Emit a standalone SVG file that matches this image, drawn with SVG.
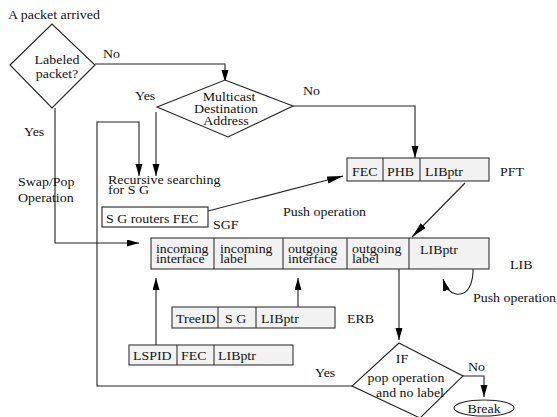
<svg xmlns="http://www.w3.org/2000/svg" width="557" height="417" viewBox="0 0 557 417" font-family="'Liberation Serif', 'DejaVu Serif', serif">
<defs>
<style>
text{font-family:'Liberation Serif','DejaVu Serif',serif;font-size:12px;fill:#111}
.m{text-anchor:middle}
.ln{fill:none;stroke:#222;stroke-width:1.1}
.box{fill:#fff;stroke:#222;stroke-width:1.1}
.cell{fill:#f2f2f2;stroke:#333;stroke-width:1.1}
.dv{stroke:#333;stroke-width:1.1}
.arr{marker-end:url(#ah)}
</style>
<marker id="ah" markerWidth="13" markerHeight="8" refX="12" refY="3.5" orient="auto" markerUnits="userSpaceOnUse"><path d="M0,0 L12,3.5 L0,7 z" fill="#000"/></marker>
<marker id="ahl" markerWidth="17" markerHeight="8" refX="16" refY="3.5" orient="auto" markerUnits="userSpaceOnUse"><path d="M0,0 L16,3.5 L0,7 z" fill="#000"/></marker>
</defs>
<rect width="557" height="417" fill="#fff"/>

<g id="connectors">
<path class="ln arr" d="M95,64 H225 V82"/>
<path class="ln arr" d="M293,106 H415 V158"/>
<path class="ln arr" d="M156,112 V176"/>
<path class="ln arr" d="M352,386 H97 V122 H139 V176"/>
<path class="ln arr" d="M55,108 V243 H139"/>
<path class="ln" style="marker-end:url(#ahl)" d="M208,211 L343,176"/>
<path class="ln" style="marker-end:url(#ahl)" d="M465,183 L412,237"/>
<path class="ln arr" d="M156,345 V278"/>
<path class="ln arr" d="M298,307 V278"/>
<path class="ln arr" d="M399,269 V340"/>
<path class="ln arr" d="M463,376 H484 V397"/>
<path class="ln arr" d="M473,265 C474,285 467,296 456,294 C450,293 446,289 443,279"/>
</g>

<g id="labels">
<text transform="translate(103,58) scale(1.16,1)">No</text>
<text transform="translate(303,95) scale(1.16,1)">No</text>
<text transform="translate(135,100) scale(1.16,1)">Yes</text>
<text transform="translate(24,136) scale(1.16,1)">Yes</text>
<text transform="translate(18,186) scale(1.16,1)">Swap/Pop</text>
<text transform="translate(18,202) scale(1.16,1)">Operation</text>
<text transform="translate(108,184) scale(1.16,1)">Recursive searching</text>
<text transform="translate(108,194) scale(1.16,1)">for S G</text>
<text transform="translate(283,216) scale(1.16,1)">Push operation</text>
<text transform="translate(473,302) scale(1.16,1)">Push operation</text>
<text transform="translate(315,377) scale(1.16,1)">Yes</text>
<text transform="translate(468,371) scale(1.16,1)">No</text>
</g>

<g id="start">
<text transform="translate(8,19) scale(1.16,1)">A packet arrived</text>
</g>

<g id="labeled">
<polygon class="box" points="10,65 52,24 95,65 52,108"/>
<text class="m" transform="translate(57,64) scale(1.16,1)">Labeled</text>
<text class="m" transform="translate(57,78) scale(1.16,1)">packet?</text>
</g>

<g id="multicast">
<polygon class="box" points="157,107 225,80 293,106 228,137"/>
<text class="m" transform="translate(229,101) scale(1.16,1)">Multicast</text>
<text class="m" transform="translate(226,113) scale(1.16,1)">Destination</text>
<text class="m" transform="translate(226,125) scale(1.16,1)">Address</text>
</g>

<g id="pft">
<rect class="cell" x="347" y="158" width="142" height="23"/>
<line class="dv" x1="383" y1="158" x2="383" y2="181"/>
<line class="dv" x1="420" y1="158" x2="420" y2="181"/>
<text transform="translate(352,176) scale(1.16,1)">FEC</text>
<text transform="translate(387,176) scale(1.16,1)">PHB</text>
<text transform="translate(425,176) scale(1.16,1)">LIBptr</text>
<text transform="translate(500,176) scale(1.16,1)">PFT</text>
</g>

<g id="sgf">
<rect class="box" x="102" y="207" width="106" height="20"/>
<text transform="translate(106,223) scale(1.16,1)">S G  routers FEC</text>
<text transform="translate(213,229) scale(1.16,1)">SGF</text>
</g>

<g id="lib">
<rect class="cell" x="151" y="238" width="338" height="31"/>
<line class="dv" x1="214" y1="238" x2="214" y2="269"/>
<line class="dv" x1="283" y1="238" x2="283" y2="269"/>
<line class="dv" x1="347" y1="238" x2="347" y2="269"/>
<line class="dv" x1="409" y1="238" x2="409" y2="269"/>
<text transform="translate(156,253) scale(1.16,1)">incoming</text>
<text transform="translate(156,263) scale(1.16,1)">interface</text>
<text transform="translate(220,253) scale(1.16,1)">incoming</text>
<text transform="translate(220,263) scale(1.16,1)">label</text>
<text transform="translate(288,253) scale(1.16,1)">outgoing</text>
<text transform="translate(288,263) scale(1.16,1)">interface</text>
<text transform="translate(352,253) scale(1.16,1)">outgoing</text>
<text transform="translate(352,263) scale(1.16,1)">label</text>
<text transform="translate(420,254) scale(1.16,1)">LIBptr</text>
<text transform="translate(510,269) scale(1.16,1)">LIB</text>
</g>

<g id="erb">
<rect class="cell" x="172" y="307" width="163" height="21"/>
<line class="dv" x1="218" y1="307" x2="218" y2="328"/>
<line class="dv" x1="256" y1="307" x2="256" y2="328"/>
<text transform="translate(176,323) scale(1.16,1)">TreeID</text>
<text transform="translate(225,323) scale(1.16,1)">S G</text>
<text transform="translate(261,323) scale(1.16,1)">LIBptr</text>
<text transform="translate(347,323) scale(1.16,1)">ERB</text>
</g>

<g id="lspid">
<rect class="cell" x="129" y="345" width="164" height="20"/>
<line class="dv" x1="177" y1="345" x2="177" y2="365"/>
<line class="dv" x1="214" y1="345" x2="214" y2="365"/>
<text transform="translate(133,360) scale(1.16,1)">LSPID</text>
<text transform="translate(181,360) scale(1.16,1)">FEC</text>
<text transform="translate(218,360) scale(1.16,1)">LIBptr</text>
</g>

<g id="ifpop">
<polygon class="box" points="399,343 463,376 420,418 352,386"/>
<text class="m" transform="translate(402,363) scale(1.16,1)">IF</text>
<text class="m" transform="translate(406,382) scale(1.16,1)">pop operation</text>
<text class="m" transform="translate(410,397) scale(1.16,1)">and  no label</text>
</g>

<g id="break">
<ellipse class="box" cx="484" cy="408" rx="30" ry="8"/>
<text class="m" transform="translate(484,413) scale(1.16,1)">Break</text>
</g>
</svg>
